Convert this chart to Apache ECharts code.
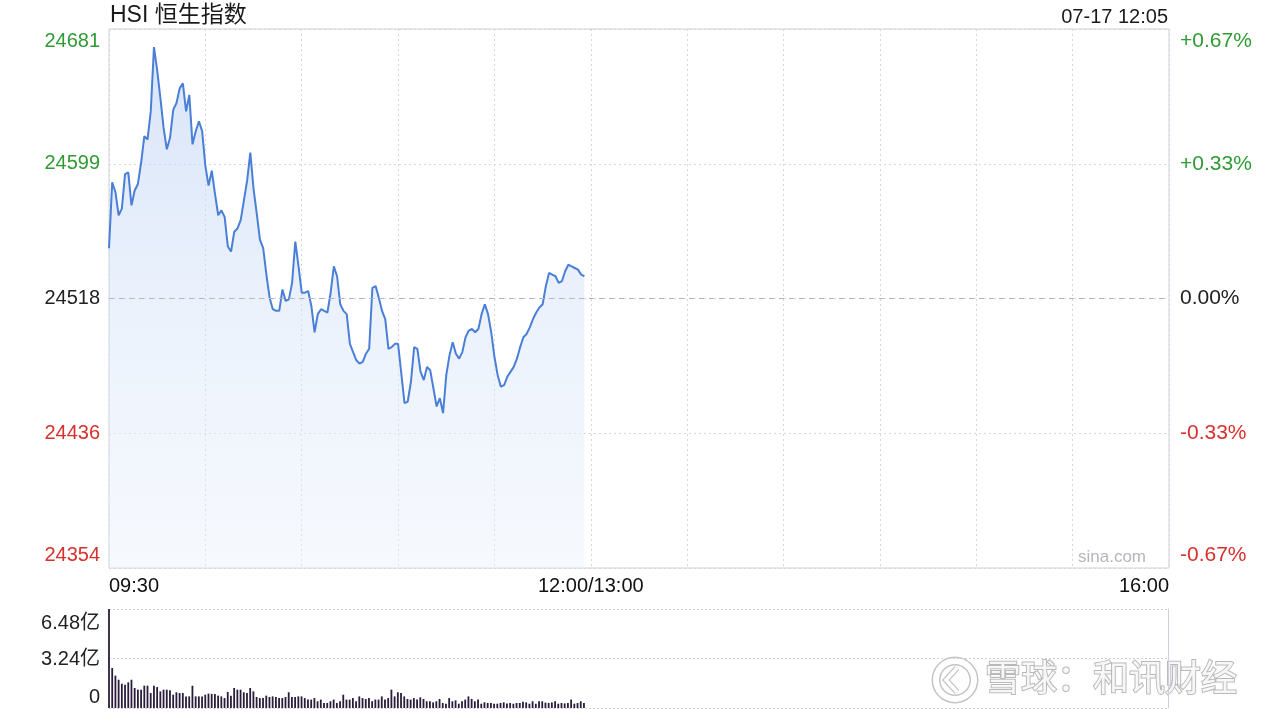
<!DOCTYPE html>
<html>
<head>
<meta charset="utf-8">
<title>HSI 恒生指数</title>
<script src="https://cdn.jsdelivr.net/npm/echarts@6/dist/echarts.min.js"></script>
<style>
  html, body { margin: 0; padding: 0; background: #fff; }
  #main { width: 1280px; height: 720px; }
</style>
</head>
<body>
<div id="main"></div>
<script>
  // 昨收
  var preClose = 24517.5;

  // 分时价格, 09:30 起每分钟一个点
  var prices = [
    24548, 24588, 24582, 24568, 24572, 24593, 24594, 24574, 24583, 24587,
    24600, 24616, 24614, 24631, 24670, 24656, 24639, 24621, 24608, 24615,
    24632, 24636, 24645, 24648, 24631, 24641, 24611, 24619, 24625, 24619,
    24598, 24586, 24595, 24581, 24568, 24571, 24567, 24549, 24546, 24558,
    24560, 24565, 24577, 24589, 24606, 24584, 24569, 24553, 24548, 24532,
    24518, 24511, 24510, 24510, 24523, 24516, 24517, 24527, 24552, 24537,
    24521, 24521, 24522, 24513, 24497, 24508, 24511, 24510, 24509, 24521,
    24537, 24531, 24514, 24510, 24508, 24490, 24485, 24480, 24478, 24479,
    24484, 24487, 24524, 24525, 24518, 24510, 24505, 24487, 24488, 24490,
    24490, 24472, 24454, 24455, 24467, 24488, 24487, 24473, 24468, 24476,
    24474, 24463, 24452, 24457, 24448, 24471, 24483, 24491, 24484, 24481,
    24485, 24494, 24498, 24499, 24497, 24499, 24508, 24514, 24508, 24497,
    24482, 24471, 24464, 24465, 24470, 24473, 24476, 24481, 24488, 24494,
    24496, 24500, 24505, 24509, 24512, 24514, 24525, 24533, 24532, 24531,
    24527, 24528, 24534, 24538, 24537, 24536, 24535, 24532, 24531
  ];

  // 成交量 (亿)
  var volumes = [
    6.48, 2.62, 2.12, 1.85, 1.59, 1.53, 1.68, 1.85, 1.31, 1.20,
    1.20, 1.46, 1.46, 0.98, 1.46, 1.37, 1.09, 1.20, 1.20, 1.16,
    0.87, 1.03, 0.98, 0.98, 0.76, 0.76, 1.46, 0.76, 0.76, 0.76,
    0.87, 0.94, 0.92, 0.92, 0.81, 0.76, 0.65, 1.05, 0.81, 1.31,
    1.20, 1.20, 1.03, 0.98, 1.31, 1.09, 0.72, 0.65, 0.65, 0.81,
    0.72, 0.76, 0.72, 0.65, 0.65, 0.72, 1.03, 0.72, 0.72, 0.76,
    0.76, 0.65, 0.55, 0.55, 0.65, 0.44, 0.55, 0.33, 0.33, 0.44,
    0.55, 0.33, 0.44, 0.87, 0.55, 0.55, 0.65, 0.44, 0.76, 0.65,
    0.59, 0.65, 0.44, 0.55, 0.55, 0.76, 0.55, 0.65, 1.20, 0.76,
    1.03, 0.98, 0.76, 0.59, 0.55, 0.65, 0.55, 0.70, 0.59, 0.44,
    0.44, 0.37, 0.44, 0.59, 0.33, 0.28, 0.65, 0.44, 0.50, 0.28,
    0.44, 0.55, 0.76, 0.59, 0.44, 0.55, 0.28, 0.37, 0.33, 0.33,
    0.28, 0.28, 0.33, 0.37, 0.30, 0.33, 0.28, 0.33, 0.33, 0.41,
    0.37, 0.28, 0.44, 0.28, 0.44, 0.44, 0.35, 0.33, 0.37, 0.44,
    0.28, 0.33, 0.30, 0.33, 0.55, 0.28, 0.33, 0.44, 0.33
  ];

  var priceTicks = ['24354', '24436', '24518', '24599', '24681'];
  var pctTicks = ['-0.67%', '-0.33%', '0.00%', '+0.33%', '+0.67%'];
  var volTicks = ['0', '3.24亿', '6.48亿'];
  var timeTickAt = [0, 150, 330];
  var timeTickText = ['09:30', '12:00/13:00', '16:00'];

  var FONT = "'Liberation Sans','Noto Sans CJK SC',sans-serif";
  var GREEN = '#2e9b34', RED = '#d8302c', DARK = '#222';
  var tickColors = [RED, RED, DARK, GREEN, GREEN];
  // 上下两端的刻度文字往里收
  var tickPad = [[0, 0, 26, 0], 0, 0, 0, [24, 0, 0, 0]];
  var volPad = [[0, 0, 22, 0], [2, 0, 0, 0], [28, 0, 0, 0]];

  function makeRich(colors, pads, size) {
    var rich = {};
    for (var i = 0; i < pads.length; i++) {
      rich['s' + i] = { color: colors[i], padding: pads[i], fontSize: size, fontFamily: FONT };
    }
    return rich;
  }

  var lineData = prices.map(function (p, i) { return [i, p - preClose]; });
  var volData = volumes.map(function (v, i) { return [i, v]; });

  var dotted = { color: '#d6d6dc', type: [2, 3], width: 1 };

  var myChart = echarts.init(document.getElementById('main'));
  var option = {
    backgroundColor: '#fff',
    animation: false,
    grid: [
      { left: 109, right: 111, top: 29, bottom: 152, show: true, borderColor: '#cfd0d8', borderWidth: 1 },
      { left: 109, right: 112, top: 609, bottom: 12 }
    ],
    xAxis: [
      {
        type: 'value', gridIndex: 0, min: 0, max: 330, interval: 30,
        axisLine: { show: false }, axisTick: { show: false },
        splitLine: { show: true, lineStyle: dotted },
        axisLabel: {
          color: '#111', fontSize: 20, fontFamily: FONT, margin: 8,
          alignMinLabel: 'left', alignMaxLabel: 'right',
          formatter: function (v) {
            var k = timeTickAt.indexOf(v);
            return k >= 0 ? timeTickText[k] : '';
          }
        }
      },
      {
        type: 'value', gridIndex: 1, min: 0, max: 330, interval: 30,
        axisLine: { show: false }, axisTick: { show: false },
        splitLine: { show: false }, axisLabel: { show: false }
      }
    ],
    yAxis: [
      {
        type: 'value', gridIndex: 0, min: -163.5, max: 163.5, interval: 81.75,
        axisLine: { show: false }, axisTick: { show: false },
        splitLine: { show: true, lineStyle: dotted },
        axisLabel: {
          margin: 9,
          formatter: function (v, i) { return '{s' + i + '|' + priceTicks[i] + '}'; },
          rich: makeRich(tickColors, tickPad, 20)
        }
      },
      {
        type: 'value', gridIndex: 0, position: 'right', min: -163.5, max: 163.5, interval: 81.75,
        axisLine: { show: false }, axisTick: { show: false }, splitLine: { show: false },
        axisLabel: {
          margin: 11,
          formatter: function (v, i) { return '{s' + i + '|' + pctTicks[i] + '}'; },
          rich: makeRich(tickColors, tickPad, 21)
        }
      },
      {
        type: 'value', gridIndex: 1, min: 0, max: 6.48, interval: 3.24,
        axisLine: { show: false }, axisTick: { show: false },
        splitLine: { show: true, lineStyle: { color: '#cfcfd6', type: [2, 2], width: 1 } },
        axisLabel: {
          margin: 9,
          formatter: function (v, i) { return '{s' + i + '|' + volTicks[i] + '}'; },
          rich: makeRich([DARK, DARK, DARK], volPad, 20)
        }
      },
      {
        type: 'value', gridIndex: 1, position: 'right', min: 0, max: 6.48, interval: 3.24,
        axisLine: { show: true, lineStyle: { color: '#cfd0d8' } },
        axisTick: { show: false }, splitLine: { show: false }, axisLabel: { show: false }
      }
    ],
    series: [
      {
        name: 'HSI', type: 'line', xAxisIndex: 0, yAxisIndex: 0,
        data: lineData, showSymbol: false, smooth: false,
        lineStyle: { color: '#4a7fd8', width: 2 },
        areaStyle: {
          origin: 'start',
          color: new echarts.graphic.LinearGradient(0, 0, 0, 1, [
            { offset: 0, color: 'rgba(186,207,243,0.8)' },
            { offset: 0.5, color: 'rgba(214,228,249,0.7)' },
            { offset: 1, color: 'rgba(234,241,252,0.6)' }
          ])
        },
        markLine: {
          silent: true, symbol: 'none', label: { show: false },
          lineStyle: { color: '#b4b4bc', type: [5, 5], width: 1 },
          data: [{ yAxis: 0 }]
        }
      },
      {
        name: '成交量', type: 'bar', xAxisIndex: 1, yAxisIndex: 2,
        data: volData, barWidth: 1.8,
        itemStyle: { color: '#2a1c3b' }
      }
    ],
    graphic: [
      {
        type: 'text', x: 110, y: 16,
        style: { text: 'HSI 恒生指数', fill: '#1a1a1a', font: '23px ' + FONT, verticalAlign: 'middle' }
      },
      {
        type: 'text', x: 1168, y: 17,
        style: { text: '07-17 12:05', fill: '#1a1a1a', font: '20px ' + FONT, align: 'right', verticalAlign: 'middle' }
      },
      {
        type: 'text', x: 1146, y: 557,
        style: { text: 'sina.com', fill: '#b5b5bb', font: '17px ' + FONT, align: 'right', verticalAlign: 'middle' }
      },
      {
        type: 'circle', shape: { cx: 955, cy: 680, r: 19 },
        style: { fill: 'none', stroke: '#c4c4c4', lineWidth: 9 }
      },
      {
        type: 'circle', shape: { cx: 955, cy: 680, r: 19 },
        style: { fill: 'none', stroke: '#fff', lineWidth: 6 }
      },
      {
        type: 'polyline', shape: { points: [[957, 668], [946, 680], [957, 692]] },
        style: { fill: 'none', stroke: '#c4c4c4', lineWidth: 6 }
      },
      {
        type: 'polyline', shape: { points: [[957, 668], [946, 680], [957, 692]] },
        style: { fill: 'none', stroke: '#fff', lineWidth: 3.5 }
      },
      {
        type: 'text', x: 985, y: 681,
        style: {
          text: '雪球：和讯财经', fill: '#f7f7f7', stroke: '#b9b9b9', lineWidth: 2,
          font: '36px ' + FONT, verticalAlign: 'middle'
        }
      }
    ]
  };
  myChart.setOption(option);
</script>
</body>
</html>
